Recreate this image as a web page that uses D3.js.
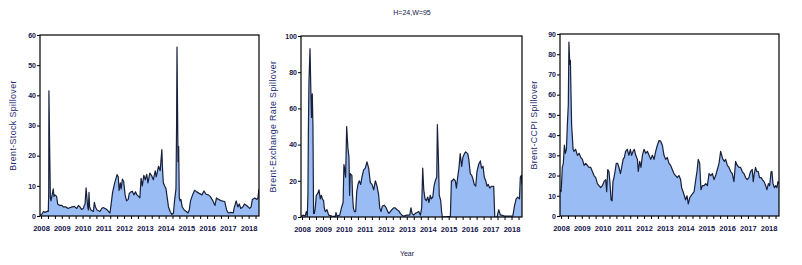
<!DOCTYPE html>
<html>
<head>
<meta charset="utf-8">
<script src="https://cdn.jsdelivr.net/npm/d3@7"></script>
<style>
  body { margin: 0; background: #fff; }
  svg text { font-family: "Liberation Sans", Arial, sans-serif; }
</style>
</head>
<body>
<svg id="chart" width="802" height="265"></svg>
<script>
// year labels on the time axis
const yearTicks = d3.range(2008, 2019);

// Brent-Stock spillover, [decimal year, value]
const stockSeries = [
  [2007.95,0.3],[2008.03,0.5],[2008.12,1.5],[2008.19,1.2],[2008.3,1.6],[2008.35,1.5],[2008.37,8],[2008.38,41.5],
  [2008.41,25],[2008.45,6],[2008.48,5],[2008.52,6.5],[2008.59,9],[2008.62,6.5],[2008.67,7],[2008.75,6.5],[2008.8,4],
  [2008.9,3.5],[2009.0,3.5],[2009.07,3],[2009.2,3],[2009.3,2.5],[2009.4,2.8],[2009.5,3],[2009.6,3.2],[2009.72,2.5],
  [2009.8,3.5],[2009.88,3],[2009.95,2.2],[2010.04,2.5],[2010.08,3.5],[2010.12,4],[2010.17,9.3],[2010.21,6],[2010.25,3],
  [2010.28,2],[2010.31,7.8],[2010.34,3],[2010.4,2],[2010.52,1.5],[2010.57,4.5],[2010.62,3],[2010.7,2],[2010.84,1.5],
  [2010.92,2.5],[2011.0,2.8],[2011.08,2.5],[2011.16,2.2],[2011.25,1.5],[2011.32,1],[2011.36,3],[2011.45,8],[2011.55,11],
  [2011.66,13.7],[2011.72,13],[2011.76,8.5],[2011.82,11],[2011.86,9],[2011.92,12.2],[2011.98,11.5],[2012.05,7],
  [2012.12,5],[2012.2,5.5],[2012.25,7.5],[2012.33,8],[2012.4,8.2],[2012.47,7],[2012.55,8],[2012.62,7],[2012.7,6.5],
  [2012.76,6],[2012.82,12.5],[2012.88,10],[2012.95,13.5],[2013.02,12],[2013.09,13.8],[2013.15,11],[2013.24,14.2],
  [2013.32,13.5],[2013.41,12],[2013.5,15],[2013.55,13],[2013.66,16.5],[2013.74,15],[2013.82,22],[2013.85,16],
  [2013.89,11],[2013.95,10],[2014.02,9],[2014.08,6],[2014.14,3],[2014.22,1.5],[2014.3,0.5],[2014.38,1],[2014.43,5],
  [2014.5,9],[2014.53,30],[2014.55,56],[2014.57,40],[2014.6,18],[2014.63,23],[2014.66,6],[2014.7,5],[2014.74,5.5],
  [2014.8,3],[2014.9,2],[2015.0,1.5],[2015.08,1],[2015.14,2],[2015.2,5],[2015.3,7],[2015.4,8.5],[2015.5,8],
  [2015.62,7.5],[2015.75,7],[2015.85,8.3],[2015.95,7.2],[2016.06,7],[2016.15,6.5],[2016.28,5],[2016.38,3.5],
  [2016.45,6],[2016.55,5.5],[2016.7,5],[2016.85,4.8],[2016.94,2],[2017.02,1],[2017.15,1.2],[2017.26,1],[2017.3,2.5],
  [2017.4,5],[2017.48,3],[2017.55,4],[2017.62,2.5],[2017.72,3],[2017.8,4],[2017.9,3.5],[2017.98,3],[2018.05,2.5],
  [2018.12,3],[2018.18,5.5],[2018.3,6],[2018.4,5.5],[2018.45,6],[2018.5,9]
];

// Brent-Exchange Rate spillover
const fxSeries = [
  [2007.95,0.5],[2008.08,1],[2008.15,0.5],[2008.2,3],[2008.25,0.5],[2008.28,12],[2008.3,45],[2008.33,75],[2008.38,93],
  [2008.42,70],[2008.45,55],[2008.47,65],[2008.49,68],[2008.52,50],[2008.55,2],[2008.59,2],[2008.63,5],[2008.68,12],
  [2008.75,13],[2008.81,15],[2008.87,10],[2008.92,12],[2008.97,10],[2009.03,9],[2009.06,5],[2009.11,3],[2009.19,4],
  [2009.27,1],[2009.43,0.5],[2009.59,0.3],[2009.62,2.5],[2009.67,0.5],[2009.8,1],[2009.88,5],[2009.96,8],[2010.0,29],
  [2010.03,27],[2010.08,22],[2010.13,50],[2010.19,38],[2010.24,33],[2010.27,12],[2010.3,24],[2010.38,23],[2010.41,12],
  [2010.45,5],[2010.5,3],[2010.56,3],[2010.61,14],[2010.67,18],[2010.73,20],[2010.8,18],[2010.86,22],[2010.94,26],
  [2011.02,27],[2011.1,30.5],[2011.18,27],[2011.26,19],[2011.34,18],[2011.42,15],[2011.5,20],[2011.58,17],[2011.66,12],
  [2011.71,5],[2011.77,3],[2011.83,6],[2011.93,6.5],[2012.02,5],[2012.09,3],[2012.15,2],[2012.21,3],[2012.29,4],
  [2012.37,5],[2012.45,5],[2012.53,4],[2012.61,3.5],[2012.69,2],[2012.77,1],[2012.85,0.5],[2013.01,1],[2013.14,1],
  [2013.2,5],[2013.25,2],[2013.33,1],[2013.41,2],[2013.49,2.5],[2013.57,3],[2013.65,1],[2013.71,5],[2013.76,27],
  [2013.81,15],[2013.87,10],[2013.93,9],[2014.0,11],[2014.06,8],[2014.12,12],[2014.17,10],[2014.24,11],[2014.3,17],
  [2014.36,20],[2014.43,22],[2014.46,51],[2014.51,32],[2014.55,12],[2014.62,9],[2014.66,3],[2014.7,0],[2015.08,0.3],
  [2015.13,20],[2015.17,20],[2015.24,21],[2015.32,20],[2015.37,16],[2015.43,22],[2015.49,27],[2015.55,35],[2015.62,28],
  [2015.68,33],[2015.75,35],[2015.81,36],[2015.91,35],[2015.96,32],[2016.03,24],[2016.1,23],[2016.16,21],[2016.22,18],
  [2016.29,17],[2016.35,25],[2016.43,29],[2016.51,31],[2016.57,27],[2016.64,28],[2016.7,22],[2016.77,20],[2016.83,17],
  [2016.89,18],[2016.96,16],[2017.05,17],[2017.15,17],[2017.2,0],[2017.31,0],[2017.39,4],[2017.47,1],[2017.55,1],
  [2017.67,0.5],[2018.06,0.5],[2018.14,6],[2018.22,10],[2018.3,11],[2018.38,10],[2018.42,22],[2018.47,23],[2018.5,18]
];

// Brent-CCPI spillover
const ccpiSeries = [
  [2007.95,13],[2008.0,12],[2008.03,17],[2008.06,24],[2008.11,26],[2008.16,35],[2008.21,31],[2008.26,33],[2008.3,44],
  [2008.35,55],[2008.38,86],[2008.42,75],[2008.45,77],[2008.48,60],[2008.51,45],[2008.54,40],[2008.58,33],[2008.62,32],
  [2008.7,33],[2008.79,30],[2008.87,31],[2008.95,29],[2009.03,28],[2009.11,25],[2009.19,26],[2009.27,25],[2009.35,24],
  [2009.43,24],[2009.51,22],[2009.59,20],[2009.67,19],[2009.75,16],[2009.83,15],[2009.91,14],[2009.99,15],[2010.07,17],
  [2010.15,18],[2010.2,12],[2010.25,23],[2010.31,22],[2010.36,16],[2010.41,8],[2010.46,7.5],[2010.5,17],[2010.55,19],
  [2010.6,22],[2010.66,26],[2010.73,26],[2010.79,24],[2010.86,21],[2010.92,24],[2010.99,28],[2011.05,29],[2011.11,32],
  [2011.19,33],[2011.27,30],[2011.34,33],[2011.4,30],[2011.47,32],[2011.53,33],[2011.6,30],[2011.68,28],[2011.72,22],
  [2011.79,27],[2011.85,24],[2011.92,30],[2012.0,33],[2012.08,31],[2012.16,32],[2012.24,30],[2012.32,28],[2012.4,30],
  [2012.48,28],[2012.56,32],[2012.64,35],[2012.72,37.3],[2012.8,37],[2012.88,35],[2012.96,30],[2013.04,28],[2013.12,29],
  [2013.2,26],[2013.28,25],[2013.36,23],[2013.44,21],[2013.52,20],[2013.6,19],[2013.68,20],[2013.76,18],[2013.81,14],
  [2013.88,12],[2013.94,10],[2014.0,8],[2014.07,10],[2014.13,6],[2014.2,9],[2014.26,10],[2014.33,11],[2014.41,12],
  [2014.49,18],[2014.55,22],[2014.61,28],[2014.68,26],[2014.74,13],[2014.81,15],[2014.89,15],[2014.97,16],[2015.05,15],
  [2015.13,21],[2015.21,20],[2015.29,21],[2015.37,18],[2015.45,20],[2015.53,23],[2015.61,26],[2015.69,32],[2015.74,30],
  [2015.8,28],[2015.87,27],[2015.93,28],[2016.01,25],[2016.09,24],[2016.17,22],[2016.25,21],[2016.33,17],[2016.41,27],
  [2016.49,25],[2016.57,24],[2016.65,24],[2016.73,22],[2016.81,21],[2016.89,19],[2016.97,18],[2017.05,19],[2017.13,22],
  [2017.21,23],[2017.26,17],[2017.31,21],[2017.37,24],[2017.43,22],[2017.5,22],[2017.56,19],[2017.64,19],[2017.7,18],
  [2017.78,17],[2017.86,15],[2017.92,13],[2017.99,16],[2018.05,15],[2018.12,22],[2018.16,22],[2018.21,16],[2018.28,14],
  [2018.34,15],[2018.4,14],[2018.45,17],[2018.5,16]
];

const panelLabels = ["Brent-Stock Spillover", "Brent-Exchange Rate Spillover", "Brent-CCPI Spillover"];
const panelMax = [60, 100, 90];
const panelStep = [10, 20, 10];

const fillColor = "#99bcf5";
const lineColor = "#18203a";
const textColor = "#14144a";

const svg = d3.select("#chart");
svg.append("rect").attr("width", 802).attr("height", 265).attr("fill", "#fff");

// panel frames (pixels)
const frames = [
  { left: 40, top: 35, right: 259, bottom: 216, labelX: 16 },
  { left: 301, top: 36, right: 522, bottom: 217, labelX: 276 },
  { left: 560, top: 34, right: 779, bottom: 216, labelX: 537 }
];
const allSeries = [stockSeries, fxSeries, ccpiSeries];

frames.forEach((f, i) => {
  const data = allSeries[i];
  const x = d3.scaleLinear().domain([2007.95, 2018.5]).range([f.left, f.right]);
  const y = d3.scaleLinear().domain([0, panelMax[i]]).range([f.bottom, f.top]);

  const g = svg.append("g");
  const clipId = "clip" + i;
  g.append("clipPath").attr("id", clipId)
    .append("rect")
    .attr("x", f.left).attr("y", f.top)
    .attr("width", f.right - f.left).attr("height", f.bottom - f.top);

  const area = d3.area().x(d => x(d[0])).y0(y(0)).y1(d => y(d[1]));
  const line = d3.line().x(d => x(d[0])).y(d => y(d[1]));

  g.append("path").datum(data)
    .attr("clip-path", `url(#${clipId})`)
    .attr("d", area)
    .attr("fill", fillColor);
  g.append("path").datum(data)
    .attr("clip-path", `url(#${clipId})`)
    .attr("d", line)
    .attr("fill", "none")
    .attr("stroke", lineColor)
    .attr("stroke-width", 1.2)
    .attr("stroke-linejoin", "round");

  // y axis
  const yAxis = d3.axisLeft(y)
    .tickValues(d3.range(0, panelMax[i] + 1, panelStep[i]))
    .tickSize(3).tickPadding(1);
  const ya = g.append("g").attr("transform", `translate(${f.left},0)`).call(yAxis);
  ya.select(".domain").remove();
  ya.selectAll("line").attr("stroke", "#000");
  ya.selectAll("text").attr("font-size", 7).attr("font-weight", "bold").attr("fill", textColor);

  // x axis: year ticks plus minor ticks
  const minor = d3.range(2008, 2018.5, 1 / 3).filter(v => v <= 2018.5);
  const xMinor = d3.axisBottom(x).tickValues(minor).tickSize(3).tickFormat("");
  const xm = g.append("g").attr("transform", `translate(0,${f.bottom})`).call(xMinor);
  xm.select(".domain").remove();
  xm.selectAll("line").attr("stroke", "#000");

  const xAxis = d3.axisBottom(x).tickValues(yearTicks).tickSize(0).tickPadding(10)
    .tickFormat(d3.format("d"));
  const xa = g.append("g").attr("transform", `translate(0,${f.bottom})`).call(xAxis);
  xa.select(".domain").remove();
  xa.selectAll("text").attr("font-size", 7.5).attr("font-weight", "bold").attr("fill", textColor);

  // frame
  g.append("rect")
    .attr("x", f.left).attr("y", f.top)
    .attr("width", f.right - f.left).attr("height", f.bottom - f.top)
    .attr("fill", "none").attr("stroke", "#000").attr("stroke-width", 1.2);

  // y label
  g.append("text")
    .attr("transform", `translate(${f.labelX},${(f.top + f.bottom) / 2}) rotate(-90)`)
    .attr("text-anchor", "middle")
    .attr("font-size", 8.8)
    .attr("letter-spacing", 0.4)
    .attr("fill", "#1d2a6e")
    .text(panelLabels[i]);
});

svg.append("text")
  .attr("x", 412).attr("y", 14.5)
  .attr("text-anchor", "middle")
  .attr("font-size", 7)
  .attr("fill", textColor)
  .text("H=24,W=95");

svg.append("text")
  .attr("x", 407).attr("y", 256)
  .attr("text-anchor", "middle")
  .attr("font-size", 7)
  .attr("fill", textColor)
  .text("Year");
</script>
</body>
</html>
